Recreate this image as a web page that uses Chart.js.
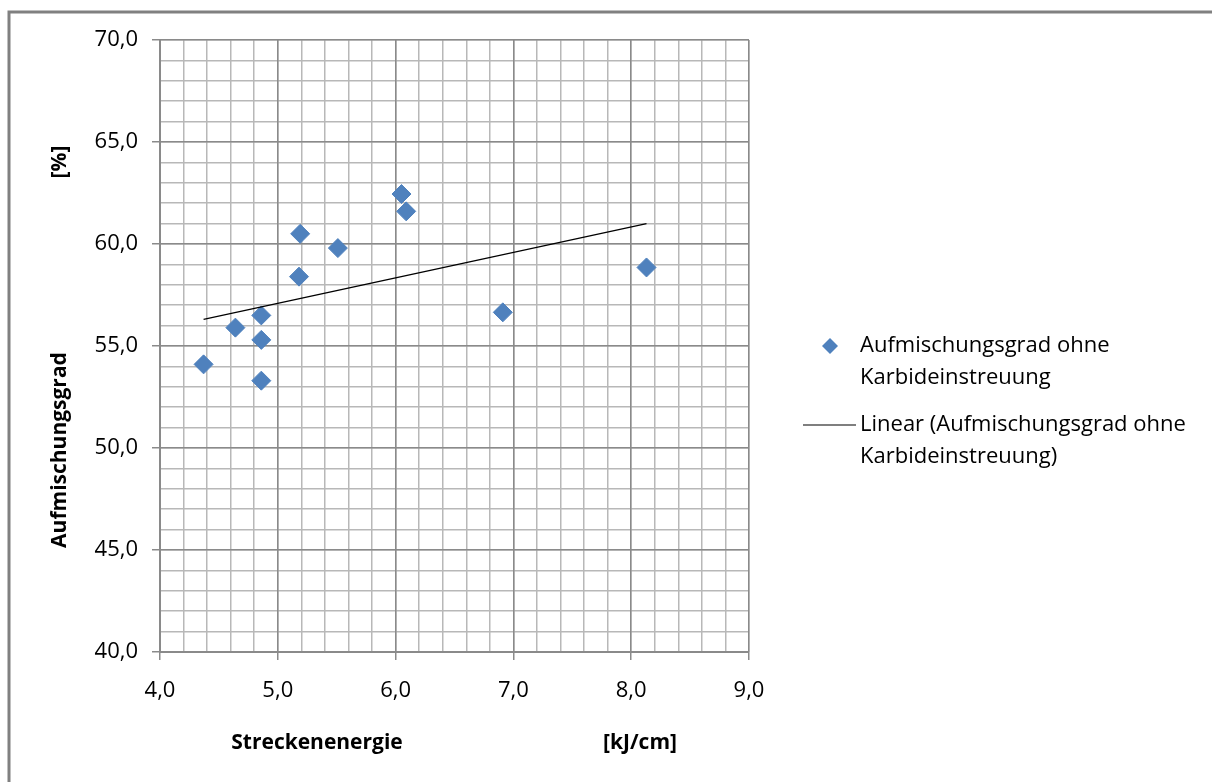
<!DOCTYPE html>
<html>
<head>
<meta charset="utf-8">
<script src="https://cdn.jsdelivr.net/npm/chart.js@4"></script>
<style>
  html, body { margin: 0; padding: 0; background: #fff; }
  #wrap { width: 1212px; height: 782px; }
</style>
</head>
<body>
<div id="wrap"><canvas id="myChart" width="1212" height="782"></canvas></div>
<script>
// Streckenenergie [kJ/cm] / Aufmischungsgrad [%]
const energie = [4.37, 4.64, 4.86, 4.86, 4.86, 5.18, 5.19, 5.51, 6.05, 6.09, 6.91, 8.13];
const aufmischung = [54.1, 55.9, 56.5, 55.3, 53.3, 58.4, 60.5, 59.8, 62.45, 61.6, 56.65, 58.85];
// Endpunkte der linearen Trendlinie
const trendX = [4.37, 8.13];
const trendY = [56.3, 61.0];

const serienName = 'Aufmischungsgrad ohne Karbideinstreuung';
const trendName = 'Linear (Aufmischungsgrad ohne Karbideinstreuung)';
const legendeZeilen = [
    ['Aufmischungsgrad ohne', 'Karbideinstreuung'],
    ['Linear (Aufmischungsgrad ohne', 'Karbideinstreuung)']
];

const blau = '#4F81BD';
const schrift = "'Open Sans', sans-serif";

function komma(v) {
    return v.toFixed(1).replace('.', ',');
}

// Rahmen, Achsentitel und Legende
const rahmenPlugin = {
    id: 'rahmen',
    afterDraw(chart) {
        const ctx = chart.ctx;
        ctx.save();
        ctx.strokeStyle = '#808080';
        ctx.lineWidth = 3;
        ctx.beginPath();
        ctx.moveTo(9, 782);
        ctx.lineTo(9, 12);
        ctx.lineTo(1212, 12);
        ctx.stroke();

        ctx.fillStyle = '#000';
        ctx.font = 'bold 21px ' + schrift;
        ctx.textAlign = 'center';
        ctx.textBaseline = 'middle';
        ctx.fillText('Streckenenergie', 317, 743);
        ctx.fillText('[kJ/cm]', 640, 743);

        ctx.save();
        ctx.translate(60, 450);
        ctx.rotate(-Math.PI / 2);
        ctx.fillText('Aufmischungsgrad', 0, 0);
        ctx.restore();
        ctx.save();
        ctx.translate(60, 162);
        ctx.rotate(-Math.PI / 2);
        ctx.fillText('[%]', 0, 0);
        ctx.restore();

        // Legende
        ctx.font = '22px ' + schrift;
        ctx.textAlign = 'left';
        ctx.fillStyle = blau;
        ctx.beginPath();
        ctx.moveTo(830, 338);
        ctx.lineTo(838, 346);
        ctx.lineTo(830, 354);
        ctx.lineTo(822, 346);
        ctx.closePath();
        ctx.fill();

        ctx.strokeStyle = '#000';
        ctx.lineWidth = 1.2;
        ctx.beginPath();
        ctx.moveTo(803, 425);
        ctx.lineTo(856, 425);
        ctx.stroke();

        ctx.fillStyle = '#000';
        ctx.fillText(legendeZeilen[0][0], 860, 346);
        ctx.fillText(legendeZeilen[0][1], 860, 378);
        ctx.fillText(legendeZeilen[1][0], 860, 425);
        ctx.fillText(legendeZeilen[1][1], 860, 457);
        ctx.restore();
    }
};

const ctx = document.getElementById('myChart').getContext('2d');
const myChart = new Chart(ctx, {
    type: 'scatter',
    data: {
        datasets: [{
            label: serienName,
            data: energie.map((x, i) => ({ x: x, y: aufmischung[i] })),
            pointStyle: 'rectRot',
            pointRadius: 9.5,
            pointHoverRadius: 9.5,
            backgroundColor: blau,
            borderColor: blau,
            borderWidth: 1,
            showLine: false,
            order: 2
        }, {
            label: trendName,
            data: trendX.map((x, i) => ({ x: x, y: trendY[i] })),
            showLine: true,
            borderColor: '#000',
            borderWidth: 1.3,
            pointRadius: 0,
            fill: false,
            order: 1
        }]
    },
    options: {
        responsive: false,
        animation: false,
        events: [],
        layout: {
            padding: { left: 0, right: 463, top: 40, bottom: 0 }
        },
        plugins: {
            legend: { display: false },
            tooltip: { enabled: false }
        },
        scales: {
            xMinor: {
                type: 'linear',
                position: 'bottom',
                min: 4, max: 9,
                z: -1,
                ticks: { display: false, stepSize: 0.2 },
                grid: { color: '#b8b8b8', lineWidth: 1.5, drawTicks: false },
                border: { display: false },
                afterFit(scale) { scale.height = 0; }
            },
            yMinor: {
                type: 'linear',
                position: 'left',
                min: 40, max: 70,
                z: -1,
                ticks: { display: false, stepSize: 1 },
                grid: { color: '#b8b8b8', lineWidth: 1.5, drawTicks: false },
                border: { display: false },
                afterFit(scale) { scale.width = 0; }
            },
            x: {
                type: 'linear',
                position: 'bottom',
                min: 4, max: 9,
                ticks: {
                    stepSize: 1,
                    padding: 18,
                    color: '#000',
                    font: { family: schrift, size: 22 },
                    callback: v => komma(v)
                },
                grid: { color: '#8a8a8a', lineWidth: 1.5, tickLength: 8 },
                border: { color: '#8a8a8a', width: 2 },
                afterFit(scale) { scale.height = 130; }
            },
            y: {
                type: 'linear',
                position: 'left',
                min: 40, max: 70,
                ticks: {
                    stepSize: 5,
                    padding: 14,
                    color: '#000',
                    font: { family: schrift, size: 22 },
                    callback: v => komma(v)
                },
                grid: { color: '#8a8a8a', lineWidth: 1.5, tickLength: 8 },
                border: { color: '#8a8a8a', width: 2 },
                afterFit(scale) { scale.width = 160; }
            }
        }
    },
    plugins: [rahmenPlugin]
});
</script>
</body>
</html>
